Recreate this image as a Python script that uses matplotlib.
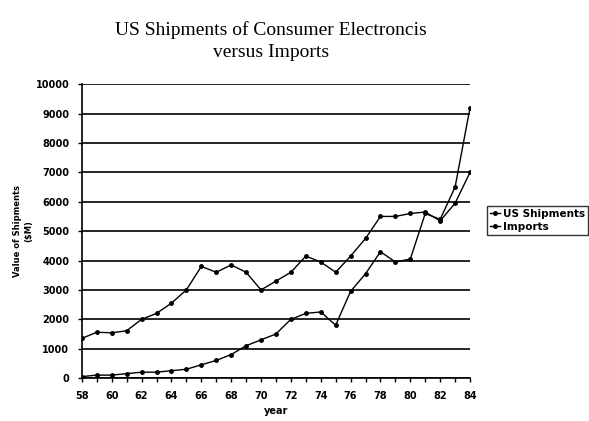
import matplotlib
matplotlib.use("Agg")
import matplotlib.pyplot as plt

# data ($M)
years = list(range(58, 85))
us_shipments = [1350, 1560, 1540, 1610, 2000, 2200, 2550, 3000, 3800, 3600,
                3850, 3600, 3000, 3300, 3600, 4150, 3950, 3600, 4150, 4750,
                5500, 5500, 5600, 5650, 5350, 5950, 7000]
imports = [50, 100, 100, 150, 200, 200, 250, 300, 450, 600,
           800, 1100, 1300, 1500, 2000, 2200, 2250, 1800, 2950, 3550,
           4300, 3950, 4050, 5600, 5400, 6500, 9200]
xtick_labels = list(range(58, 85, 2))
ytick_values = list(range(0, 10001, 1000))

fig = plt.figure(figsize=(5.89, 4.21), dpi=100)
ax = fig.add_axes([0.139, 0.102, 0.659, 0.698])

ax.plot(years, us_shipments, color="black", lw=1.0, marker="o", ms=2.5,
        label="US Shipments")
ax.plot(years, imports, color="black", lw=1.0, marker="o", ms=2.5,
        label="Imports")

ax.set_xlim(58, 84)
ax.set_ylim(0, 10000)
ax.set_yticks(ytick_values)
ax.set_xticks(xtick_labels)
ax.set_xticks(years, minor=True)
ax.yaxis.grid(True, color="black", lw=1.2)
ax.set_axisbelow(True)

for s in ["top", "right"]:
    ax.spines[s].set_visible(False)
ax.spines["left"].set_linewidth(1.2)
ax.spines["bottom"].set_linewidth(1.2)
ax.tick_params(axis="x", which="both", direction="out", length=3, width=1)
ax.tick_params(axis="x", pad=6)
ax.tick_params(axis="y", direction="out", length=3, width=1, pad=6)
for lbl in ax.get_xticklabels() + ax.get_yticklabels():
    lbl.set_fontsize(7)
    lbl.set_fontweight("bold")
    lbl.set_family("DejaVu Sans")

ax.set_xlabel("year", fontsize=7, fontweight="bold", family="DejaVu Sans",
              labelpad=4)
ax.set_ylabel("Value of Shipments\n($M)", fontsize=6, fontweight="bold",
              family="DejaVu Sans", labelpad=2)

fig.text(0.46, 0.903, "US Shipments of Consumer Electroncis\nversus Imports",
         ha="center", va="center", fontsize=14, family="Liberation Serif",
         linespacing=1.4)

leg = ax.legend(loc="upper left", bbox_to_anchor=(0.826, 0.511),
                bbox_transform=fig.transFigure, frameon=True, fancybox=False,
                prop={"family": "DejaVu Sans", "weight": "bold", "size": 7.5},
                handlelength=1.0, handletextpad=0.3, borderpad=0.3,
                labelspacing=0.3, borderaxespad=0)
leg.get_frame().set_edgecolor("black")
leg.get_frame().set_linewidth(1.0)

fig.savefig("out.png", dpi=100)
